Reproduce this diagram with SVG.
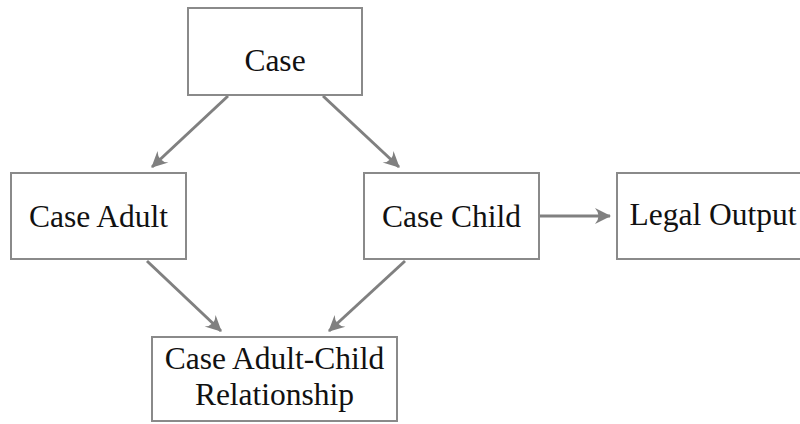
<svg xmlns="http://www.w3.org/2000/svg" width="800" height="424" viewBox="0 0 800 424">
<style>
.box{fill:#fff;stroke:#8a8a8a;stroke-width:2}
.lbl{font-family:"Liberation Serif","Times New Roman",serif;font-size:31.5px;fill:#111;text-anchor:middle}
.edge{stroke:#808080;stroke-width:3;fill:none}
</style>
<defs>
<marker id="ah" viewBox="-16 -9 18 18" refX="0" refY="0" markerWidth="18" markerHeight="18" markerUnits="userSpaceOnUse" orient="auto">
<path d="M1,0 L-15,-8 Q-8,0 -15,8 Z" fill="#808080"/>
</marker>
</defs>
<rect width="800" height="424" fill="#fff"/>
<g id="edges">
<line class="edge" x1="228" y1="96" x2="152" y2="167" marker-end="url(#ah)"/>
<line class="edge" x1="323" y1="96" x2="399" y2="167" marker-end="url(#ah)"/>
<line class="edge" x1="540" y1="216" x2="610" y2="216" marker-end="url(#ah)"/>
<line class="edge" x1="147" y1="261" x2="221" y2="331" marker-end="url(#ah)"/>
<line class="edge" x1="405" y1="261" x2="329" y2="331" marker-end="url(#ah)"/>
</g>
<g id="case">
<rect class="box" x="188" y="8" width="174" height="87"/>
<text class="lbl" x="275" y="71">Case</text>
</g>
<g id="case-adult">
<rect class="box" x="11" y="173" width="175" height="86"/>
<text class="lbl" x="98.5" y="227">Case Adult</text>
</g>
<g id="case-child">
<rect class="box" x="364" y="173" width="175" height="86"/>
<text class="lbl" x="451.5" y="227">Case Child</text>
</g>
<g id="legal-output">
<rect class="box" x="617" y="173" width="192" height="86"/>
<text class="lbl" x="713" y="225">Legal Output</text>
</g>
<g id="relationship">
<rect class="box" x="152" y="337" width="245" height="84"/>
<text class="lbl" x="274.5" y="369">Case Adult-Child</text>
<text class="lbl" x="274.5" y="405">Relationship</text>
</g>
</svg>
